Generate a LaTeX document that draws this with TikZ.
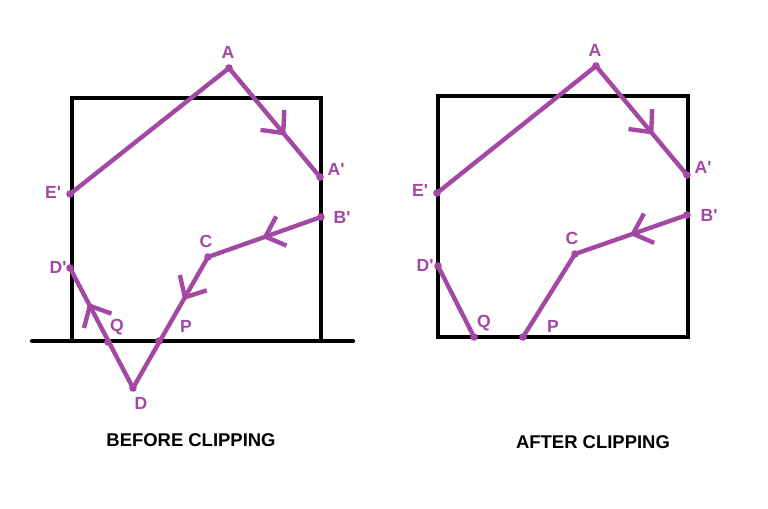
\documentclass[tikz,border=0pt]{standalone}
\usepackage{fontspec}
\setmainfont{Liberation Sans}
\usetikzlibrary{arrows.meta,decorations.markings}
\definecolor{pen}{RGB}{163,73,164}

\begin{document}
\begin{tikzpicture}[x=0.02cm,y=-0.02cm]

\tikzset{
win/.style={line width=2.4pt,black,line cap=round},
edge/.style={line width=2.5pt,pen,line cap=round,line join=round},
dot/.style={fill=pen},
lbl/.style={text=pen,font=\bfseries\fontsize{10}{11}\selectfont,inner sep=0pt},
caption/.style={font=\bfseries\fontsize{10.5}{12}\selectfont,inner sep=0pt},
barb/.style={postaction={decorate},decoration={markings,mark=at position #1 with {\arrow{Straight Barb[length=0.34cm,width=0.62cm]}}}}
}

\newcommand{\pr}{\textquotesingle}

\useasboundingbox (0,0) rectangle (768,508);

% before clipping
\draw[win] (72,341) |- (321,98) -- (321,341);
\draw[win] (32,341) -- (353,341);

\coordinate (A) at (229,68);
\coordinate (Ap) at (320,177);
\coordinate (Bp) at (321,217);
\coordinate (C) at (208,257);
\coordinate (P) at (159,341);
\coordinate (D) at (133,388);
\coordinate (Q) at (108,342);
\coordinate (Dp) at (70,268);
\coordinate (Ep) at (70,194);

\draw[edge] (Ep) -- (A);
\draw[edge,barb=0.62] (A) -- (Ap);
\draw[edge,barb=0.52] (Bp) -- (C);
\draw[edge,barb=0.33] (C) -- (D);
\draw[edge,barb=0.71] (D) -- (Dp);

\foreach \p in {A,Ap,Bp,C,P,D,Q,Dp,Ep}
  \fill[dot] (\p) circle (3.8);

\node[lbl] (lA) at (228,52) {A};
\node[lbl] (lAp) at (336,169) {A\pr};
\node[lbl] (lBp) at (342,217) {B\pr};
\node[lbl] (lC) at (206,241) {C};
\node[lbl] (lP) at (186,326) {P};
\node[lbl] (lD) at (141,403) {D};
\node[lbl] (lQ) at (117,327) {Q};
\node[lbl] (lDp) at (58,267) {D\pr};
\node[lbl] (lEp) at (53,192) {E\pr};

\node[caption] (before) at (191,440) {BEFORE CLIPPING};

% after clipping
\draw[win] (438,96) rectangle (688,337);

\coordinate (rA) at (596,66);
\coordinate (rAp) at (687,175);
\coordinate (rBp) at (687,215);
\coordinate (rC) at (575,254);
\coordinate (rP) at (523,337);
\coordinate (rQ) at (474,337);
\coordinate (rDp) at (438,266);
\coordinate (rEp) at (437,193);

\draw[edge] (rEp) -- (rA);
\draw[edge,barb=0.63] (rA) -- (rAp);
\draw[edge,barb=0.51] (rBp) -- (rC);
\draw[edge] (rC) -- (rP);
\draw[edge] (rDp) -- (rQ);

\foreach \p in {rA,rAp,rBp,rC,rP,rQ,rDp,rEp}
  \fill[dot] (\p) circle (3.8);

\node[lbl] (rlA) at (595,50) {A};
\node[lbl] (rlAp) at (703,167) {A\pr};
\node[lbl] (rlBp) at (709,215) {B\pr};
\node[lbl] (rlC) at (572,238) {C};
\node[lbl] (rlP) at (553,326) {P};
\node[lbl] (rlQ) at (484,323) {Q};
\node[lbl] (rlDp) at (425,265) {D\pr};
\node[lbl] (rlEp) at (420,190) {E\pr};

\node[caption] (after) at (593,442) {AFTER CLIPPING};

\end{tikzpicture}
\end{document}
